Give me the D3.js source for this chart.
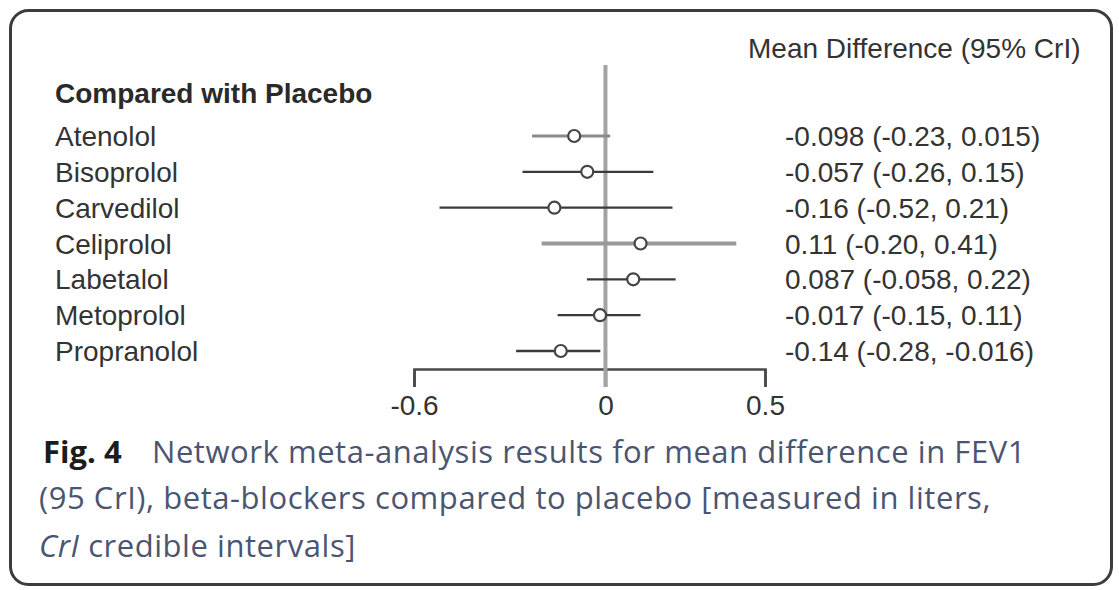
<!DOCTYPE html>
<html>
<head>
<meta charset="utf-8">
<script src="https://cdn.jsdelivr.net/npm/d3@7"></script>
<style>
  html, body { margin: 0; padding: 0; background: #fff; }
  svg { display: block; }
</style>
</head>
<body>
<svg id="chart" width="1119" height="590"></svg>
<script>
// ---- data ----
const drugs = ["Atenolol", "Bisoprolol", "Carvedilol", "Celiprolol", "Labetalol", "Metoprolol", "Propranolol"];
const meanDiff = [-0.098, -0.057, -0.16, 0.11, 0.087, -0.017, -0.14];
const lowerCrI = [-0.23, -0.26, -0.52, -0.20, -0.058, -0.15, -0.28];
const upperCrI = [0.015, 0.15, 0.21, 0.41, 0.22, 0.11, -0.016];
const effectLabels = [
  "-0.098 (-0.23, 0.015)",
  "-0.057 (-0.26, 0.15)",
  "-0.16 (-0.52, 0.21)",
  "0.11 (-0.20, 0.41)",
  "0.087 (-0.058, 0.22)",
  "-0.017 (-0.15, 0.11)",
  "-0.14 (-0.28, -0.016)"
];
const xTicks = [-0.6, 0, 0.5];
const xTickLabels = ["-0.6", "0", "0.5"];
const xDomain = [-0.6, 0.5];

// ---- styles (kept apart from data) ----
const lineStyle = {
  Atenolol: { stroke: "#8a8a8a", width: 3.2 },
  Celiprolol: { stroke: "#9a9a9a", width: 4.2 }
};
const defaultLine = { stroke: "#3a3a3a", width: 2.4 };
const chartFont = "'Liberation Sans', Arial, sans-serif";
const captionFont = "'Open Sans', 'Noto Sans', sans-serif";

const svg = d3.select("#chart");

// frame
svg.append("rect")
  .attr("x", 10.5).attr("y", 10.5)
  .attr("width", 1101).attr("height", 574)
  .attr("rx", 18).attr("ry", 18)
  .attr("fill", "none").attr("stroke", "#3c3c3c").attr("stroke-width", 3);

const x = d3.scaleLinear().domain(xDomain).range([414, 765]);
const y = d3.scalePoint().domain(drugs).range([136, 351]);

const rows = drugs.map((d, i) => ({
  drug: d, mean: meanDiff[i], lo: lowerCrI[i], hi: upperCrI[i], label: effectLabels[i]
}));

// axis
const axisG = svg.append("g")
  .attr("transform", "translate(0,369)")
  .call(d3.axisBottom(x).tickValues(xTicks)
    .tickFormat((d, i) => xTickLabels[i])
    .tickSize(18).tickSizeOuter(18).tickPadding(8));
axisG.select(".domain").attr("stroke", "#4a4a4a").attr("stroke-width", 2.6).attr("fill", "none");
axisG.selectAll(".tick line").attr("stroke", "#4a4a4a").attr("stroke-width", 2.6);
axisG.selectAll(".tick text")
  .attr("font-family", chartFont).attr("font-size", 28).attr("fill", "#333");

// reference line at zero
svg.append("line")
  .attr("x1", x(0)).attr("x2", x(0))
  .attr("y1", 65).attr("y2", 387)
  .attr("stroke", "#a3a3a3").attr("stroke-width", 4);

// CrI lines
svg.append("g").selectAll("line")
  .data(rows).join("line")
  .attr("x1", d => x(d.lo)).attr("x2", d => x(d.hi))
  .attr("y1", d => y(d.drug)).attr("y2", d => y(d.drug))
  .attr("stroke", d => (lineStyle[d.drug] || defaultLine).stroke)
  .attr("stroke-width", d => (lineStyle[d.drug] || defaultLine).width);

// point estimates
svg.append("g").selectAll("circle")
  .data(rows).join("circle")
  .attr("cx", d => x(d.mean)).attr("cy", d => y(d.drug))
  .attr("r", 6)
  .attr("fill", "#fff").attr("stroke", "#444").attr("stroke-width", 2.2);

// row labels
svg.append("text")
  .attr("x", 55).attr("y", 103)
  .attr("font-family", chartFont).attr("font-size", 28).attr("font-weight", "bold")
  .attr("fill", "#2a2a2a")
  .text("Compared with Placebo");

svg.append("g").selectAll("text")
  .data(rows).join("text")
  .attr("x", 55).attr("y", d => y(d.drug)).attr("dy", "0.36em")
  .attr("font-family", chartFont).attr("font-size", 28).attr("fill", "#333")
  .text(d => d.drug);

// header
svg.append("text")
  .attr("x", 748).attr("y", 58)
  .attr("font-family", chartFont).attr("font-size", 28).attr("fill", "#333")
  .text("Mean Difference (95% CrI)");

// effect labels
svg.append("g").selectAll("text")
  .data(rows).join("text")
  .attr("x", 785).attr("y", d => y(d.drug)).attr("dy", "0.36em")
  .attr("font-family", chartFont).attr("font-size", 28).attr("fill", "#333")
  .text(d => d.label);

// caption
const cap = svg.append("g")
  .attr("font-family", captionFont).attr("font-size", 31)
  .attr("letter-spacing", 0.55).attr("fill", "#4b5572");
const l1 = cap.append("text").attr("x", 43).attr("y", 463);
l1.append("tspan").attr("font-weight", "bold").attr("fill", "#1c1c1c").attr("letter-spacing", 0).text("Fig. 4");
l1.append("tspan").attr("x", 152).text("Network meta-analysis results for mean difference in FEV1");
cap.append("text").attr("x", 39).attr("y", 509)
  .text("(95 CrI), beta-blockers compared to placebo [measured in liters,");
const l3 = cap.append("text").attr("x", 39).attr("y", 557);
l3.append("tspan").attr("font-style", "italic").text("CrI");
l3.append("tspan").text(" credible intervals]");
</script>
</body>
</html>
